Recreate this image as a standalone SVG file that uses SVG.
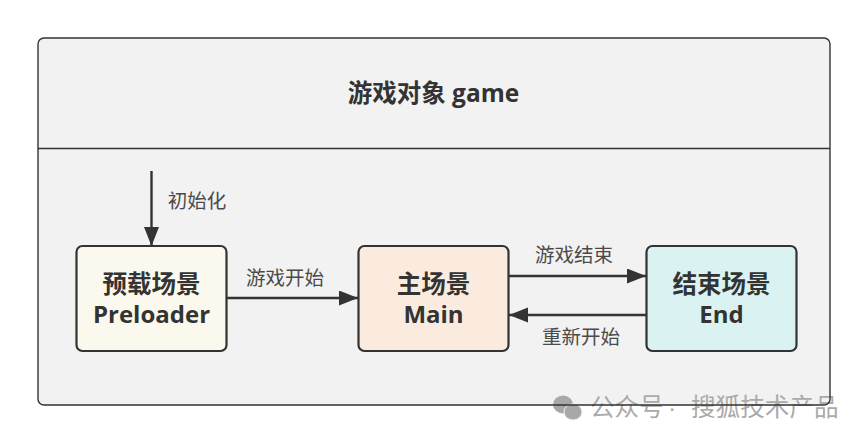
<svg xmlns="http://www.w3.org/2000/svg" width="867" height="442" viewBox="0 0 867 442">
<style>
.node{stroke:#333;stroke-width:2.2}
.t{font-family:"Open Sans","Noto Sans CJK SC",sans-serif;font-weight:700;font-size:24px;fill:#333;text-anchor:middle}
.z{font-size:24.500px}
.l{font-family:"Noto Sans CJK SC",sans-serif;font-size:19.500px;fill:#4a4a4a;text-anchor:middle}
.c{stroke:#333;stroke-width:2.400;fill:none;marker-end:url(#a)}
.w{font-family:"Noto Sans CJK SC",sans-serif;font-size:24.600px;fill:#aaa}
.d{font-family:"Liberation Sans",sans-serif;font-size:24.600px;fill:#aaa}
</style>
<defs><marker id="a" markerUnits="userSpaceOnUse" markerWidth="20" markerHeight="16" refX="19" refY="7.500" orient="auto"><path d="M0 0L19 7.500L0 15Z" fill="#333"/></marker></defs>
<rect width="867" height="442" fill="#fff"/>
<g id="game">
<rect x="38" y="38" width="792" height="367" rx="6" fill="#f2f2f2"/>
<line x1="38" y1="148.500" x2="830" y2="148.500" stroke="#333" stroke-width="1.400"/>
<text x="433.500" y="102" class="t z">游戏对象 game</text>
</g>
<g id="watermark">
<ellipse cx="563" cy="404.500" rx="10" ry="9" fill="#a8a8a8"/>
<ellipse cx="573" cy="412" rx="9" ry="8" fill="#a8a8a8" stroke="#f2f2f2" stroke-width="1"/>
<text x="590" y="416" class="w">公众号</text>
<text x="668" y="416" class="d">·</text>
<text x="691" y="416" class="w">搜狐技术产品</text>
</g>
<rect id="frame" x="38" y="38" width="792" height="367" rx="6" fill="none" stroke="#333" stroke-width="1.400"/>
<g id="preloader">
<rect class="node" x="76.500" y="246" width="150" height="105" rx="6" fill="#fbf9ee"/>
<text x="151.500" y="293" class="t z">预载场景</text>
<text x="151.500" y="323" class="t">Preloader</text>
</g>
<g id="main">
<rect class="node" x="358.500" y="246" width="150" height="105" rx="6" fill="#fbebde"/>
<text x="433.500" y="293" class="t z">主场景</text>
<text x="433.500" y="323" class="t">Main</text>
</g>
<g id="end">
<rect class="node" x="646.500" y="246" width="150" height="105" rx="6" fill="#daf3f2"/>
<text x="721.500" y="293" class="t z">结束场景</text>
<text x="721.500" y="323" class="t">End</text>
</g>
<g id="connectors">
<path class="c" d="M151.500 171V246"/>
<path class="c" d="M227 298H358"/>
<path class="c" d="M509 276H646"/>
<path class="c" d="M646 315H509"/>
<text x="197" y="208" class="l">初始化</text>
<text x="285" y="285" class="l">游戏开始</text>
<text x="574" y="262" class="l">游戏结束</text>
<text x="581" y="344" class="l">重新开始</text>
</g>
</svg>
